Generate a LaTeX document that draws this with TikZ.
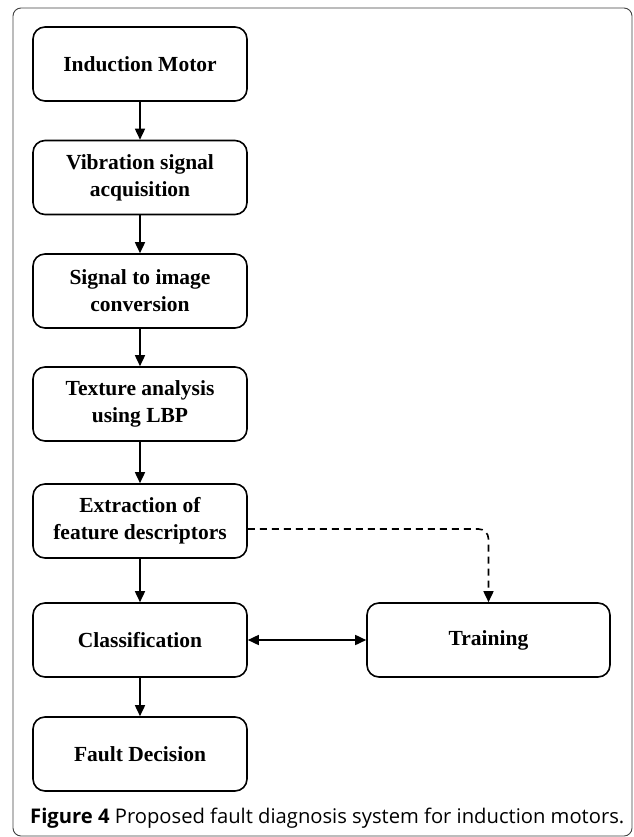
\documentclass[tikz,border=0pt]{standalone}
\usepackage{fontspec}
\setmainfont{Liberation Serif}
\newfontfamily\capfont{Open Sans}
\usetikzlibrary{arrows.meta}
\begin{document}
\begin{tikzpicture}[x=1pt,y=-1pt,
  stepbox/.style={draw,line width=1.6pt,rounded corners=12pt,minimum width=214pt,minimum height=74pt,align=center,font=\bfseries\fontsize{21.5}{27}\selectfont,inner sep=0pt},
  arr/.style={line width=1.6pt,-{Triangle[length=11pt,width=10pt]}},
  darr/.style={line width=1.6pt,{Triangle[length=11pt,width=10pt]}-{Triangle[length=11pt,width=10pt]}}]
\useasboundingbox (0,0) rectangle (633,837);
\draw[line width=0.9pt,color=black!75,rounded corners=8pt] (13,8) rectangle (632,836);
\node[stepbox] (im) at (140,64) {Induction Motor};
\node[stepbox] (vs) at (140,177.5) {Vibration signal\\acquisition};
\node[stepbox] (si) at (140,291) {Signal to image\\conversion};
\node[stepbox] (ta) at (140,404) {Texture analysis\\using LBP};
\node[stepbox] (ef) at (140,521) {Extraction of\\feature descriptors};
\node[stepbox] (cl) at (140,640) {Classification};
\node[stepbox] (fd) at (140,754) {Fault Decision};
\node[stepbox,minimum width=243pt] (tr) at (488.5,640) {Training};
\draw[arr] (im) -- (vs);
\draw[arr] (vs) -- (si);
\draw[arr] (si) -- (ta);
\draw[arr] (ta) -- (ef);
\draw[arr] (ef) -- (cl);
\draw[arr] (cl) -- (fd);
\draw[darr] (cl) -- (tr);
\coordinate (dc) at (488.5,529);
\draw[arr,dashed,dash pattern=on 7pt off 5pt,rounded corners=10pt] (ef.east |- dc) -- (dc) -- (tr.north);
\node[anchor=west,inner sep=0pt,font=\capfont\fontsize{20.2}{23}\selectfont] (cap) at (30,818) {\textbf{Figure 4} Proposed fault diagnosis system for induction motors.};
\end{tikzpicture}
\end{document}
